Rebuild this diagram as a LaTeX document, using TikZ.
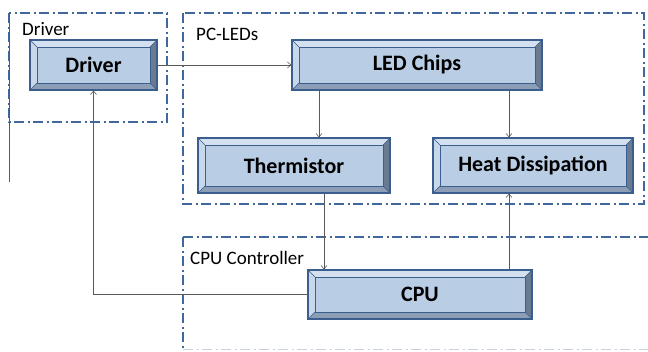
\documentclass[tikz,border=0pt]{standalone}
\usepackage{fontspec}
\setmainfont{Carlito}
\usetikzlibrary{arrows.meta,calc}
\definecolor{face}{HTML}{B9CDE5}
\definecolor{bdr}{HTML}{3A5F8F}
\definecolor{bevtop}{HTML}{D4E0EF}
\definecolor{bevleft}{HTML}{C8D7EA}
\definecolor{bevbot}{HTML}{8C9DB6}
\definecolor{bevright}{HTML}{6A7A90}
\definecolor{grp}{HTML}{41689C}
\definecolor{conn}{HTML}{5A5A5A}
\tikzset{
  bevelbox/.style n args={2}{rectangle, minimum width=#1, minimum height=#2,
    inner sep=0pt, fill=face, draw=bdr, line width=1.2pt,
    font=\fontsize{22}{25}\selectfont\bfseries,
    path picture={
      \coordinate (pNW) at (path picture bounding box.north west);
      \coordinate (pNE) at (path picture bounding box.north east);
      \coordinate (pSW) at (path picture bounding box.south west);
      \coordinate (pSE) at (path picture bounding box.south east);
      \coordinate (iNW) at ($(pNW)+(7pt,-7pt)$);
      \coordinate (iNE) at ($(pNE)+(-7pt,-7pt)$);
      \coordinate (iSW) at ($(pSW)+(7pt,7pt)$);
      \coordinate (iSE) at ($(pSE)+(-7pt,7pt)$);
      \fill[bevtop] (pNW) -- (pNE) -- (iNE) -- (iNW) -- cycle;
      \fill[bevleft] (pNW) -- (pSW) -- (iSW) -- (iNW) -- cycle;
      \fill[bevbot] (pSW) -- (pSE) -- (iSE) -- (iSW) -- cycle;
      \fill[bevright] (pNE) -- (pSE) -- (iSE) -- (iNE) -- cycle;
      \draw[bdr, line width=0.4pt] (pNW) -- (iNW) (pNE) -- (iNE) (pSW) -- (iSW) (pSE) -- (iSE);
      \draw[bdr, line width=1pt] (iNW) rectangle (iSE);
    }},
  group/.style={draw=grp, line width=1.5pt, dash pattern=on 10pt off 3.5pt on 2pt off 3.5pt},
  grplabel/.style={anchor=west, inner sep=0pt, font=\fontsize{19}{22}\selectfont},
  connector/.style={draw=conn, line width=0.6pt, -{Straight Barb[length=3.5pt,width=6pt]}}
}
\begin{document}
\begin{tikzpicture}[x=1pt,y=-1pt]
\useasboundingbox (0,0) rectangle (648,351);
% group frames
\draw[group] (9,13) rectangle (167,122);
\draw[conn, line width=0.7pt] (9,13) -- (9,182);
\draw[group] (183,13) rectangle (644,204);
\draw[group] (183,237) -- (660,237);
\draw[group] (183,237) -- (183,349.5);
\draw[group, draw=grp!30] (183,349.5) -- (660,349.5);
\node[grplabel] (lblDriver) at (22,29) {Driver};
\node[grplabel] (lblPC) at (196,34) {PC-LEDs};
\node[grplabel] (lblCPU) at (190,258) {CPU Controller};
% boxes
\node[bevelbox={127pt}{50pt}] (driver) at (93.5,65) {Driver};
\node[bevelbox={250pt}{50pt}] (led) at (417,65) {LED Chips};
\node[bevelbox={192pt}{55pt}] (therm) at (294,165.5) {Thermistor};
\node[bevelbox={200pt}{55pt}] (heat) at (533,165.5) {Heat Dissipation};
\node[bevelbox={224pt}{49pt}] (cpu) at (420,294.5) {CPU};
% connector columns
\coordinate (cA) at (319,0);
\coordinate (cB) at (509,0);
\coordinate (cC) at (324,0);
% connectors
\draw[connector] (driver.east) -- (led.west);
\draw[connector] (led.south -| cA) -- (therm.north -| cA);
\draw[connector] (led.south -| cB) -- (heat.north -| cB);
\draw[connector] (therm.south -| cC) -- (cpu.north -| cC);
\draw[connector] (cpu.north -| cB) -- (heat.south -| cB);
\draw[connector] (cpu.west) -| (driver.south);
\end{tikzpicture}
\end{document}
